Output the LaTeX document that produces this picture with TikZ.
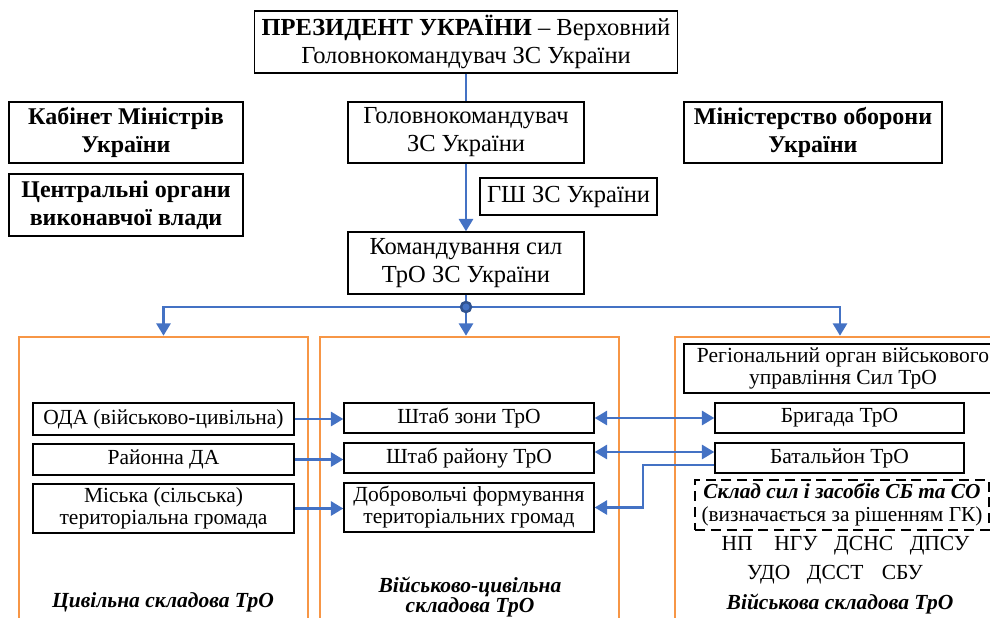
\documentclass[tikz,border=0pt]{standalone}
\usepackage{fontspec}
\setmainfont{Liberation Serif}
\usetikzlibrary{calc,arrows.meta}
\definecolor{lnkblue}{RGB}{68,114,196}
\definecolor{dotblue}{RGB}{47,82,143}
\definecolor{zoneorange}{RGB}{247,150,70}
\tikzset{
	>={Triangle[length=7.5pt,width=8.5pt]},
	box/.style={draw=black, line width=0.8pt, fill=white, align=center, inner sep=0pt, font=\fontsize{14.7}{16.8}\selectfont},
	boldbox/.style={box, font=\fontsize{14.4}{16.8}\selectfont\bfseries},
	smallbox/.style={box, font=\fontsize{12.9}{13.2}\selectfont},
	wh/.style 2 args={minimum width=#1*0.6pt, minimum height=#2*0.6pt},
	zone/.style={draw=zoneorange, line width=1.5pt, inner sep=0pt},
	wire/.style={draw=lnkblue, line width=1.6pt},
	link/.style={wire, ->},
	dlink/.style={wire, <->},
	zonelabel/.style={font=\fontsize{12.9}{12.5}\selectfont\bfseries\itshape, align=center},
	forces/.style={font=\fontsize{12.9}{15}\selectfont}
}

\begin{document}
\begin{tikzpicture}[x=0.6pt, y=-0.6pt]
		%%%%% START %%%%%
		\clip (0,0) rectangle (990,618);
		
		% three parts of TrO
		\node[zone, wh={289}{323}] (civ) at (163.5,498.5) {};
		\node[zone, wh={299}{323}] (vcz) at (469.5,498.5) {};
		\node[zone, wh={330}{323}] (vsk) at (840,498.5) {};
		
		% top of the chain
		\node[box, wh={423}{62}] (pres) at (466,42) {\textbf{ПРЕЗИДЕНТ УКРАЇНИ} – Верховний\\Головнокомандувач ЗС України};
		\node[boldbox, wh={234}{61}] (kab) at (126,132.5) {Кабінет Міністрів\\України};
		\node[boldbox, wh={234}{62}] (cov) at (126,205) {Центральні органи\\виконавчої влади};
		\node[box, wh={236}{61}] (hk) at (466,132.5) {Головнокомандувач\\ЗС України};
		\node[boldbox, wh={258}{61}] (mo) at (813,132.5) {Міністерство оборони\\України};
		\node[box, wh={177}{37}] (gsh) at (568.5,196.5) {ГШ ЗС України};
		\node[box, wh={236}{62}] (ksil) at (466,263) {Командування сил\\ТрО ЗС України};
		\coordinate (jn) at (466,307);
		
		% civil part
		\node[smallbox, wh={261}{32}] (oda) at (163.5,419) {ОДА (військово-цивільна)};
		\node[smallbox, wh={261}{31}] (rda) at (163.5,459.5) {Районна ДА};
		\node[smallbox, wh={261}{49}] (mtg) at (163.5,508.5) {Міська (сільська)\\територіальна громада};
		\node[zonelabel] (civlbl) at (163,602) {Цивільна складова ТрО};
		
		% military-civil part
		\node[smallbox, wh={250}{30}] (shz) at (469,418) {Штаб зони ТрО};
		\node[smallbox, wh={250}{30}] (shr) at (469,458) {Штаб району ТрО};
		\node[smallbox, wh={250}{49}] (dftg) at (469,507.5) {Добровольчі формування\\територіальних громад};
		\node[zonelabel] (vczlbl) at (470,597) {Військово-цивільна\\складова ТрО};
		
		% military part
		\node[smallbox, wh={318}{49}] (rou) at (843,368.5) {Регіональний орган військового\\управління Сил ТрО};
		\node[smallbox, wh={249}{30}] (brig) at (839.5,418) {Бригада ТрО};
		\node[smallbox, wh={249}{30}] (bat) at (839.5,458) {Батальйон ТрО};
		\node[smallbox, wh={294}{50}, draw=black, line width=1.3pt, dash pattern=on 6pt off 3.5pt, font=\fontsize{12.8}{13.8}\selectfont] (sklad) at (842,505) {{\bfseries\itshape Склад сил і засобів СБ та СО}\\(визначається за рішенням ГК)};
		\node[forces] (sbl1) at (845.5,546) {НП\hspace{13pt}НГУ\hspace{10pt}ДСНС\hspace{10pt}ДПСУ};
		\node[forces] (sbl2) at (835,575) {УДО\hspace{10pt}ДССТ\hspace{11pt}СБУ};
		\node[zonelabel] (vsklbl) at (840,604) {Військова складова ТрО};
		
		% connectors
		\draw[wire] (pres.south) -- (hk.north);
		\draw[link] (hk.south) -- (ksil.north);
		\draw[wire] (ksil.south) -- (jn);
		\draw[link] (jn) -| (civ.north);
		\draw[link] (jn) -| (vsk.north);
		\draw[link] (jn) -- (jn |- vcz.north);
		\filldraw[fill=lnkblue, draw=dotblue, line width=1.5pt] (jn) circle (3pt);
		
		\draw[link] (oda.east) -- (oda.east -| shz.west);
		\draw[link] (rda.east) -- (rda.east -| shr.west);
		\draw[link] (mtg.east) -- (mtg.east -| dftg.west);
		
		\draw[dlink] (shz.east) -- (brig.west);
		\draw[dlink] ($(shr.east)+(0,-6)$) -- ($(bat.west)+(0,-6)$);
		\coordinate (bend) at (643,0);
		\draw[link] ($(bat.west)+(0,7)$) -| (bend |- dftg.east) -- (dftg.east);
		
		%%%%% END %%%%%
	\end{tikzpicture}
\end{document}
